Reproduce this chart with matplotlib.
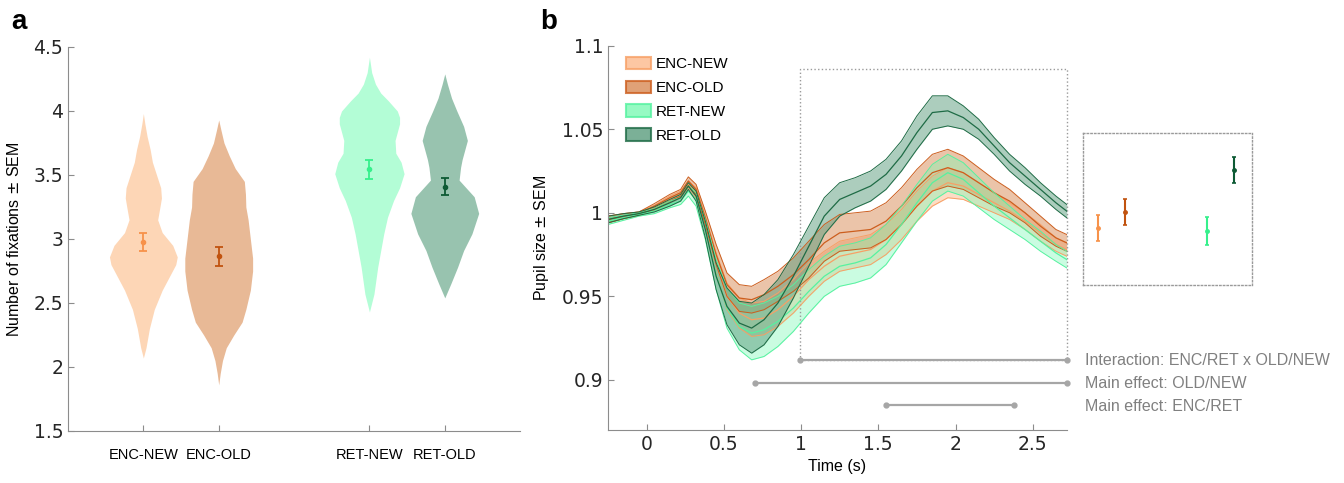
import numpy as np
import matplotlib
matplotlib.use('Agg')
import matplotlib.pyplot as plt
from matplotlib.patches import Patch, Rectangle

# ---- panel a data: violin outlines (value, half width) ----
conds = ['ENC-NEW', 'ENC-OLD', 'RET-NEW', 'RET-OLD']
xpos = [1, 2, 4, 5]

enc_new_y = [2.07, 2.15, 2.3, 2.45, 2.6, 2.7, 2.8, 2.86, 2.95, 3.05, 3.15, 3.25, 3.32, 3.4, 3.5, 3.6, 3.7, 3.8, 3.9, 3.98]
enc_new_w = [0, 0.035, 0.08, 0.145, 0.25, 0.34, 0.43, 0.45, 0.39, 0.25, 0.19, 0.22, 0.24, 0.23, 0.175, 0.12, 0.09, 0.05, 0.02, 0]
enc_old_y = [1.86, 1.95, 2.05, 2.15, 2.25, 2.35, 2.45, 2.6, 2.75, 2.85, 2.95, 3.05, 3.15, 3.25, 3.35, 3.45, 3.55, 3.65, 3.75, 3.85, 3.93]
enc_old_w = [0, 0.02, 0.05, 0.1, 0.2, 0.31, 0.36, 0.42, 0.45, 0.45, 0.43, 0.41, 0.39, 0.36, 0.355, 0.34, 0.22, 0.14, 0.07, 0.03, 0]
ret_new_y = [2.43, 2.57, 2.78, 3.04, 3.17, 3.3, 3.4, 3.51, 3.6, 3.67, 3.77, 3.9, 3.95, 4.0, 4.08, 4.14, 4.21, 4.3, 4.42]
ret_new_w = [0, 0.06, 0.11, 0.19, 0.24, 0.32, 0.40, 0.46, 0.42, 0.35, 0.34, 0.40, 0.40, 0.37, 0.25, 0.15, 0.08, 0.03, 0]
ret_old_y = [2.54, 2.65, 2.78, 2.91, 3.04, 3.2, 3.33, 3.46, 3.56, 3.62, 3.77, 3.88, 4.0, 4.1, 4.21, 4.29]
ret_old_w = [0, 0.08, 0.17, 0.25, 0.36, 0.45, 0.39, 0.19, 0.21, 0.23, 0.30, 0.25, 0.16, 0.09, 0.035, 0]

fix_mean = [2.975, 2.865, 3.545, 3.41]
fix_sem = [0.07, 0.075, 0.075, 0.07]

# ---- panel b data: pupil time courses ----
t = [-0.25, -0.15, -0.05, 0.05, 0.15, 0.22, 0.27, 0.32, 0.38, 0.45, 0.52, 0.6, 0.68, 0.76, 0.85, 0.95,
     1.05, 1.15, 1.25, 1.35, 1.45, 1.55, 1.65, 1.75, 1.85, 1.95, 2.05, 2.15, 2.25, 2.35, 2.45, 2.55, 2.65, 2.72]

enc_new_m = [0.996, 0.998, 0.9995, 1.003, 1.008, 1.011, 1.017, 1.012, 0.994, 0.970, 0.950, 0.940, 0.936, 0.937, 0.942, 0.950,
             0.960, 0.968, 0.974, 0.976, 0.978, 0.984, 0.993, 1.004, 1.013, 1.018, 1.016, 1.011, 1.006, 1.001, 0.995, 0.988, 0.981, 0.978]
enc_new_s = [0.002, 0.0015, 0.001, 0.0015, 0.002, 0.002, 0.002, 0.003, 0.004, 0.006, 0.008, 0.009, 0.010, 0.010, 0.010, 0.010,
             0.010, 0.009, 0.009, 0.009, 0.009, 0.009, 0.009, 0.009, 0.009, 0.009, 0.008, 0.007, 0.006, 0.005, 0.005, 0.005, 0.004, 0.004]
enc_old_m = [0.996, 0.998, 0.9995, 1.004, 1.009, 1.012, 1.019, 1.014, 0.997, 0.975, 0.957, 0.949, 0.948, 0.951, 0.956, 0.963,
             0.972, 0.982, 0.988, 0.989, 0.990, 0.995, 1.004, 1.015, 1.024, 1.027, 1.024, 1.018, 1.012, 1.007, 1.000, 0.992, 0.985, 0.982]
enc_old_s = [0.002, 0.0015, 0.001, 0.0015, 0.002, 0.002, 0.0025, 0.003, 0.004, 0.006, 0.007, 0.008, 0.008, 0.009, 0.009, 0.010,
             0.011, 0.011, 0.011, 0.011, 0.011, 0.011, 0.011, 0.011, 0.011, 0.011, 0.010, 0.009, 0.008, 0.007, 0.006, 0.006, 0.005, 0.005]
ret_new_m = [0.995, 0.997, 0.999, 1.001, 1.005, 1.007, 1.013, 1.008, 0.990, 0.963, 0.943, 0.932, 0.928, 0.930, 0.935, 0.943,
             0.953, 0.962, 0.968, 0.970, 0.973, 0.981, 0.993, 1.006, 1.018, 1.024, 1.020, 1.012, 1.004, 0.997, 0.990, 0.983, 0.976, 0.972]
ret_new_s = [0.002, 0.0015, 0.001, 0.0015, 0.002, 0.002, 0.003, 0.004, 0.006, 0.009, 0.012, 0.014, 0.016, 0.016, 0.015, 0.014,
             0.013, 0.012, 0.012, 0.012, 0.012, 0.012, 0.011, 0.011, 0.011, 0.011, 0.010, 0.009, 0.008, 0.007, 0.006, 0.006, 0.005, 0.005]
ret_old_m = [0.996, 0.998, 0.9995, 1.002, 1.006, 1.009, 1.016, 1.010, 0.990, 0.962, 0.944, 0.934, 0.931, 0.936, 0.946, 0.962,
             0.980, 0.998, 1.008, 1.012, 1.016, 1.023, 1.034, 1.048, 1.060, 1.061, 1.057, 1.050, 1.040, 1.030, 1.022, 1.014, 1.006, 1.001]
ret_old_s = [0.002, 0.0015, 0.001, 0.0015, 0.002, 0.002, 0.002, 0.003, 0.005, 0.008, 0.011, 0.013, 0.015, 0.015, 0.014, 0.013,
             0.012, 0.011, 0.010, 0.009, 0.009, 0.009, 0.009, 0.010, 0.010, 0.009, 0.007, 0.006, 0.005, 0.005, 0.005, 0.004, 0.004, 0.004]

# inset: mean pupil in the 1-2.7 s window
inset_x = [1, 2, 5, 6]
inset_m = [0.9925, 0.9988, 0.9913, 1.0154]
inset_s = [0.005, 0.0051, 0.0057, 0.0052]

sig_y = [0.912, 0.8984, 0.885]
sig_start = [0.99, 0.70, 1.547]
sig_end = [2.72, 2.72, 2.38]
sig_labels = ['Interaction: ENC/RET x OLD/NEW', 'Main effect: OLD/NEW', 'Main effect: ENC/RET']

violin_fill = ['#FDD6B6', '#E8B996', '#B3FDD6', '#98C3AF']
dot_col = ['#F7924A', '#C1530F', '#36F08C', '#0D5A34']
band_face = ['#FDBA8C', '#D98A55', '#7CF9B4', '#5A9C7D']
band_alpha = [0.5, 0.5, 0.4, 0.5]
band_edge = ['#F7A066', '#CC5E1E', '#56F2A0', '#1E6B45']

label_font = 'Liberation Sans'
spine_col = '#8c8c8c'

fig = plt.figure(figsize=(13.44, 4.83), dpi=100)

# ================= panel a =================
ax = fig.add_axes([0.0506, 0.1077, 0.3364, 0.795])
profiles = [(enc_new_y, enc_new_w), (enc_old_y, enc_old_w), (ret_new_y, ret_new_w), (ret_old_y, ret_old_w)]
for i, (py, pw) in enumerate(profiles):
    py = np.array(py)
    pw = np.array(pw)
    ax.fill_betweenx(py, xpos[i] - pw, xpos[i] + pw, color=violin_fill[i], lw=0)
    ax.errorbar(xpos[i], fix_mean[i], yerr=fix_sem[i], color=dot_col[i], fmt='o', ms=3,
                capsize=3, elinewidth=1.3, capthick=1.3)
ax.set_xlim(0, 6)
ax.set_ylim(1.5, 4.5)
ax.set_yticks([1.5, 2, 2.5, 3, 3.5, 4, 4.5])
ax.set_yticklabels(['1.5', '2', '2.5', '3', '3.5', '4', '4.5'])
ax.set_xticks(xpos)
ax.set_xticklabels(conds, fontsize=10.5, family=label_font)
ax.tick_params(axis='y', labelsize=13.5, direction='in', length=4, color=spine_col, labelcolor='#262626')
ax.tick_params(axis='x', direction='in', length=4, color=spine_col, pad=12)
ax.set_ylabel('Number of fixations $\\pm$ SEM', fontsize=11.5, family=label_font, labelpad=8)
for s in ['top', 'right']:
    ax.spines[s].set_visible(False)
for s in ['left', 'bottom']:
    ax.spines[s].set_color(spine_col)

# ================= panel b =================
bx = fig.add_axes([0.4524, 0.1097, 0.3413, 0.7957])
series = [(enc_new_m, enc_new_s), (enc_old_m, enc_old_s), (ret_new_m, ret_new_s), (ret_old_m, ret_old_s)]
tt = np.array(t)
for i, (m, s) in enumerate(series):
    m = np.array(m)
    s = np.array(s)
    bx.fill_between(tt, m - s, m + s, color=band_face[i], alpha=band_alpha[i], lw=0)
    bx.plot(tt, m, color=band_edge[i], lw=0.9)
    bx.plot(tt, m - s, color=band_edge[i], lw=0.7)
    bx.plot(tt, m + s, color=band_edge[i], lw=0.7)

for y, x0, x1 in zip(sig_y, sig_start, sig_end):
    bx.plot([x0, x1], [y, y], color='#a6a6a6', lw=1.6, marker='o', ms=3.5, clip_on=False)

bx.add_patch(Rectangle((0.99, 0.912), 2.72 - 0.99, 1.086 - 0.912, fill=False,
                       ls=':', lw=1, edgecolor='#9a9a9a', clip_on=False))

bx.set_xlim(-0.25, 2.72)
bx.set_ylim(0.87, 1.1)
bx.set_xticks([0, 0.5, 1, 1.5, 2, 2.5])
bx.set_xticklabels(['0', '0.5', '1', '1.5', '2', '2.5'])
bx.set_yticks([0.9, 0.95, 1, 1.05, 1.1])
bx.set_yticklabels(['0.9', '0.95', '1', '1.05', '1.1'])
bx.tick_params(labelsize=13.5, direction='in', length=4, color=spine_col, labelcolor='#262626')
bx.set_xlabel('Time (s)', fontsize=11.5, family=label_font)
bx.set_ylabel('Pupil size $\\pm$ SEM', fontsize=11.5, family=label_font, labelpad=8)
for s in ['top', 'right']:
    bx.spines[s].set_visible(False)
for s in ['left', 'bottom']:
    bx.spines[s].set_color(spine_col)

handles = [Patch(facecolor=band_face[i], edgecolor=band_edge[i], alpha=0.8, lw=1.5) for i in range(4)]
leg = bx.legend(handles, conds, loc='upper left', bbox_to_anchor=(0.02, 0.995), frameon=False,
                prop={'family': label_font, 'size': 11}, handlelength=1.6, handleheight=0.9,
                labelspacing=0.6, handletextpad=0.3, borderaxespad=0.2)

# ================= inset =================
ix = fig.add_axes([0.8058, 0.4099, 0.1257, 0.3147])
for i in range(4):
    ix.errorbar(inset_x[i], inset_m[i], yerr=inset_s[i], color=dot_col[i], fmt='o', ms=2.5,
                capsize=1.5, elinewidth=1.5, capthick=1.2)
ix.set_xlim(0.46, 6.65)
ix.set_ylim(0.97, 1.03)
ix.set_xticks([])
ix.set_yticks([])
for s in ix.spines.values():
    s.set_linestyle(':')
    s.set_color('#9a9a9a')
    s.set_linewidth(1)

for k, lab in enumerate(sig_labels):
    fig.text(0.807, 0.2526 - k * 0.0476, lab, fontsize=11.5, color='#808080', family=label_font, va='center')

fig.text(0.008, 0.955, 'a', fontsize=20, fontweight='bold', family=label_font, va='center')
fig.text(0.402, 0.955, 'b', fontsize=20, fontweight='bold', family=label_font, va='center')

fig.savefig('out.png', dpi=100)
